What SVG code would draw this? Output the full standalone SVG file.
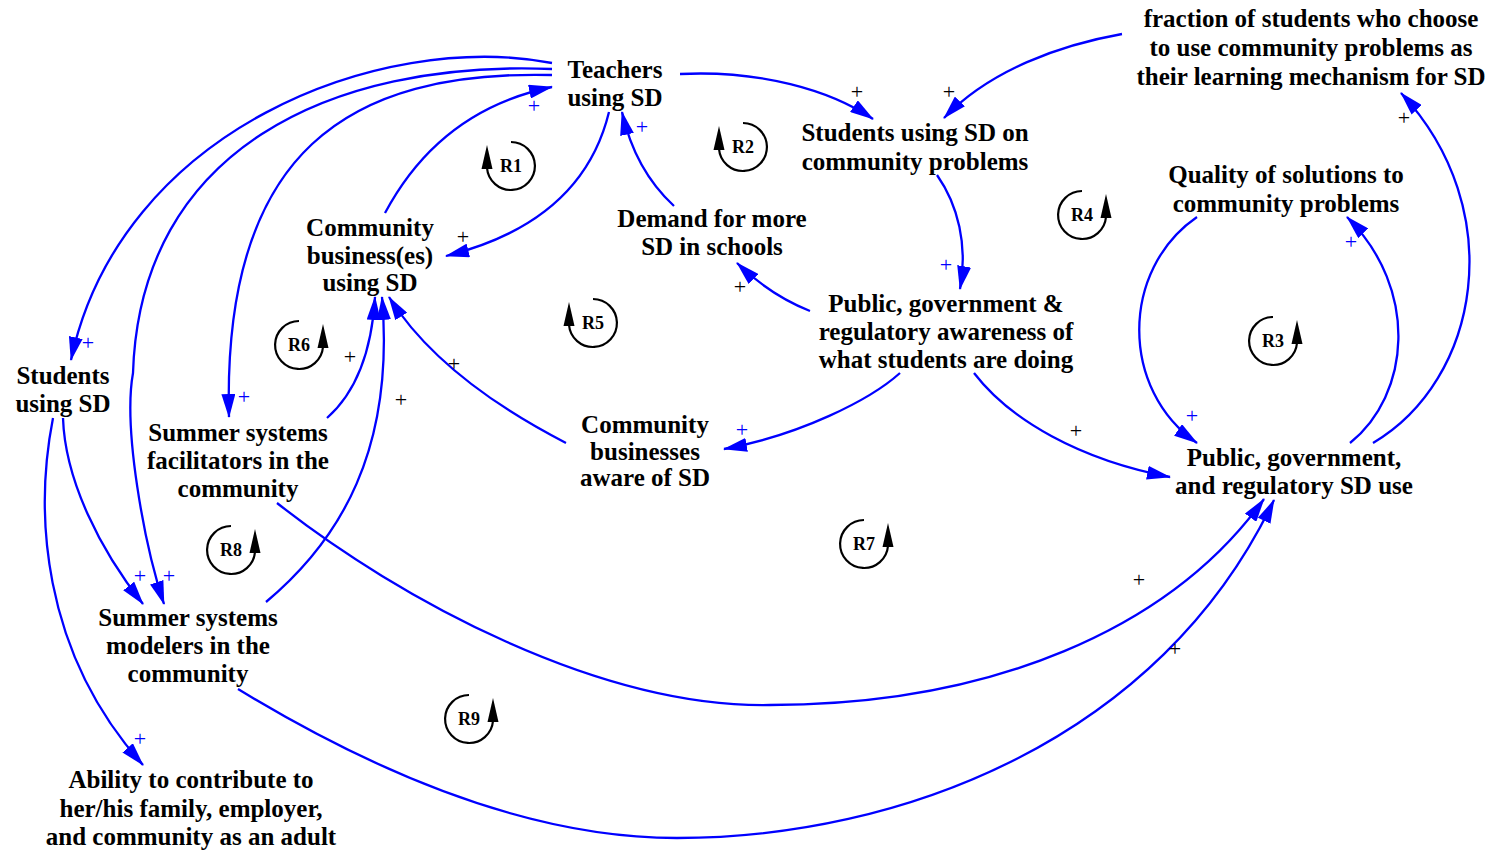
<svg xmlns="http://www.w3.org/2000/svg" width="1492" height="850" viewBox="0 0 1492 850">
<defs>
<style>
.node text{font-family:"Liberation Serif","Times New Roman",serif;font-weight:bold;font-size:25px;fill:#000;text-anchor:middle}
.link{fill:none;stroke:#0000FF;stroke-width:2.3;marker-end:url(#arr)}
.pb{font-family:"Liberation Serif","Times New Roman",serif;font-size:22px;fill:#0000FF;text-anchor:middle}
.pk{font-family:"Liberation Serif","Times New Roman",serif;font-size:22px;fill:#000;text-anchor:middle}
.loop text{font-family:"Liberation Serif","Times New Roman",serif;font-weight:bold;font-size:18px;fill:#000;text-anchor:middle}
</style>
<marker id="arr" viewBox="0 0 24 14" refX="23" refY="7" markerWidth="24" markerHeight="14" markerUnits="userSpaceOnUse" orient="auto">
<path d="M0,0 L24,7 L0,14 z" fill="#0000FF"/>
</marker>
<g id="loopL">
<path d="M 0 -24 A 24 24 0 1 1 -24 2" fill="none" stroke="#000" stroke-width="2.2"/>
<polygon points="-29.5,3 -18.5,3 -24,-21" fill="#000"/>
</g>
<g id="loopR">
<path d="M 0 -24 A 24 24 0 1 0 24 2" fill="none" stroke="#000" stroke-width="2.2"/>
<polygon points="18.5,3 29.5,3 24,-21" fill="#000"/>
</g>
</defs>
<rect width="1492" height="850" fill="#fff"/>

<g id="connectors">
<path class="link" d="M 680 74 C 760 70, 830 90, 873 119"/>
<text class="pk" x="857" y="99">+</text>
<path class="link" d="M 1122 34 C 1060 45, 990 70, 944 118"/>
<text class="pk" x="949" y="99">+</text>
<path class="link" d="M 937 175 C 958 205, 968 245, 960 289"/>
<text class="pb" x="946" y="272">+</text>
<path class="link" d="M 810 311 Q 770 295 737 263"/>
<text class="pk" x="740" y="294">+</text>
<path class="link" d="M 674 206 Q 635 170 622 112"/>
<text class="pb" x="642" y="134">+</text>
<path class="link" d="M 609 112 C 590 190, 530 235, 446 256"/>
<text class="pk" x="463" y="244">+</text>
<path class="link" d="M 385 213 Q 440 110 552 87"/>
<text class="pb" x="534" y="113">+</text>
<path class="link" d="M 552 63 C 380 30, 120 130, 71 360"/>
<text class="pb" x="88" y="350">+</text>
<path class="link" d="M 552 69 C 330 60, 140 150, 133 373 C 123 428, 144 544, 164 604"/>
<text class="pb" x="169" y="583">+</text>
<path class="link" d="M 552 75 C 350 70, 222 150, 229 417"/>
<text class="pb" x="244" y="404">+</text>
<path class="link" d="M 63 418 C 65 480, 100 550, 143 604"/>
<text class="pb" x="140" y="583">+</text>
<path class="link" d="M 53 418 C 35 510, 40 650, 143 765"/>
<text class="pb" x="140" y="746">+</text>
<path class="link" d="M 327 418 Q 370 380 375 297"/>
<text class="pk" x="350" y="364">+</text>
<path class="link" d="M 266 602 C 340 540, 395 450, 382 297"/>
<text class="pk" x="401" y="407">+</text>
<path class="link" d="M 566 443 Q 440 378 389 297"/>
<text class="pk" x="454" y="371">+</text>
<path class="link" d="M 900 373 C 870 400, 800 435, 724 449"/>
<text class="pb" x="742" y="437">+</text>
<path class="link" d="M 974 373 C 1010 420, 1080 460, 1170 477"/>
<text class="pk" x="1076" y="438">+</text>
<path class="link" d="M 1197 217 C 1120 270, 1120 390, 1197 443"/>
<text class="pb" x="1192" y="423">+</text>
<path class="link" d="M 1350 443 C 1410 395, 1420 290, 1347 217"/>
<text class="pb" x="1351" y="249">+</text>
<path class="link" d="M 1373 443 C 1480 380, 1510 210, 1401 93"/>
<text class="pk" x="1404" y="125">+</text>
<path class="link" d="M 277 503 C 400 600, 600 708, 770 705 C 990 705, 1170 630, 1264 499"/>
<text class="pk" x="1139" y="587">+</text>
<path class="link" d="M 238 689 C 330 745, 500 838, 677 838 C 900 838, 1160 740, 1274 500"/>
<text class="pk" x="1175" y="656">+</text>
</g>

<g id="n_teachers" class="node"><text x="615" y="78">Teachers</text><text x="615" y="106">using SD</text></g>
<g id="n_students_cp" class="node"><text x="915" y="141">Students using SD on</text><text x="915" y="170">community problems</text></g>
<g id="n_fraction" class="node"><text x="1311" y="27">fraction of students who choose</text><text x="1311" y="56">to use community problems as</text><text x="1311" y="85">their learning mechanism for SD</text></g>
<g id="n_quality" class="node"><text x="1286" y="183">Quality of solutions to</text><text x="1286" y="212">community problems</text></g>
<g id="n_public_use" class="node"><text x="1294" y="466">Public, government,</text><text x="1294" y="494">and regulatory SD use</text></g>
<g id="n_awareness" class="node"><text x="946" y="312">Public, government &amp;</text><text x="946" y="340">regulatory awareness of</text><text x="946" y="368">what students are doing</text></g>
<g id="n_demand" class="node"><text x="712" y="227">Demand for more</text><text x="712" y="255">SD in schools</text></g>
<g id="n_comm_bus" class="node"><text x="370" y="236">Community</text><text x="370" y="264">business(es)</text><text x="370" y="291">using SD</text></g>
<g id="n_bus_aware" class="node"><text x="645" y="433">Community</text><text x="645" y="460">businesses</text><text x="645" y="486">aware of SD</text></g>
<g id="n_students" class="node"><text x="63" y="384">Students</text><text x="63" y="412">using SD</text></g>
<g id="n_facilitators" class="node"><text x="238" y="441">Summer systems</text><text x="238" y="469">facilitators in the</text><text x="238" y="497">community</text></g>
<g id="n_modelers" class="node"><text x="188" y="626">Summer systems</text><text x="188" y="654">modelers in the</text><text x="188" y="682">community</text></g>
<g id="n_ability" class="node"><text x="191" y="788">Ability to contribute to</text><text x="191" y="817">her/his family, employer,</text><text x="191" y="845">and community as an adult</text></g>

<g id="loops" class="loop">
<g id="R1"><use href="#loopL" x="511" y="166"/><text x="511" y="172">R1</text></g>
<g id="R2"><use href="#loopL" x="743" y="147"/><text x="743" y="153">R2</text></g>
<g id="R5"><use href="#loopL" x="593" y="323"/><text x="593" y="329">R5</text></g>
<g id="R3"><use href="#loopR" x="1273" y="341"/><text x="1273" y="347">R3</text></g>
<g id="R4"><use href="#loopR" x="1082" y="215"/><text x="1082" y="221">R4</text></g>
<g id="R6"><use href="#loopR" x="299" y="345"/><text x="299" y="351">R6</text></g>
<g id="R7"><use href="#loopR" x="864" y="544"/><text x="864" y="550">R7</text></g>
<g id="R8"><use href="#loopR" x="231" y="550"/><text x="231" y="556">R8</text></g>
<g id="R9"><use href="#loopR" x="469" y="719"/><text x="469" y="725">R9</text></g>
</g>
</svg>
